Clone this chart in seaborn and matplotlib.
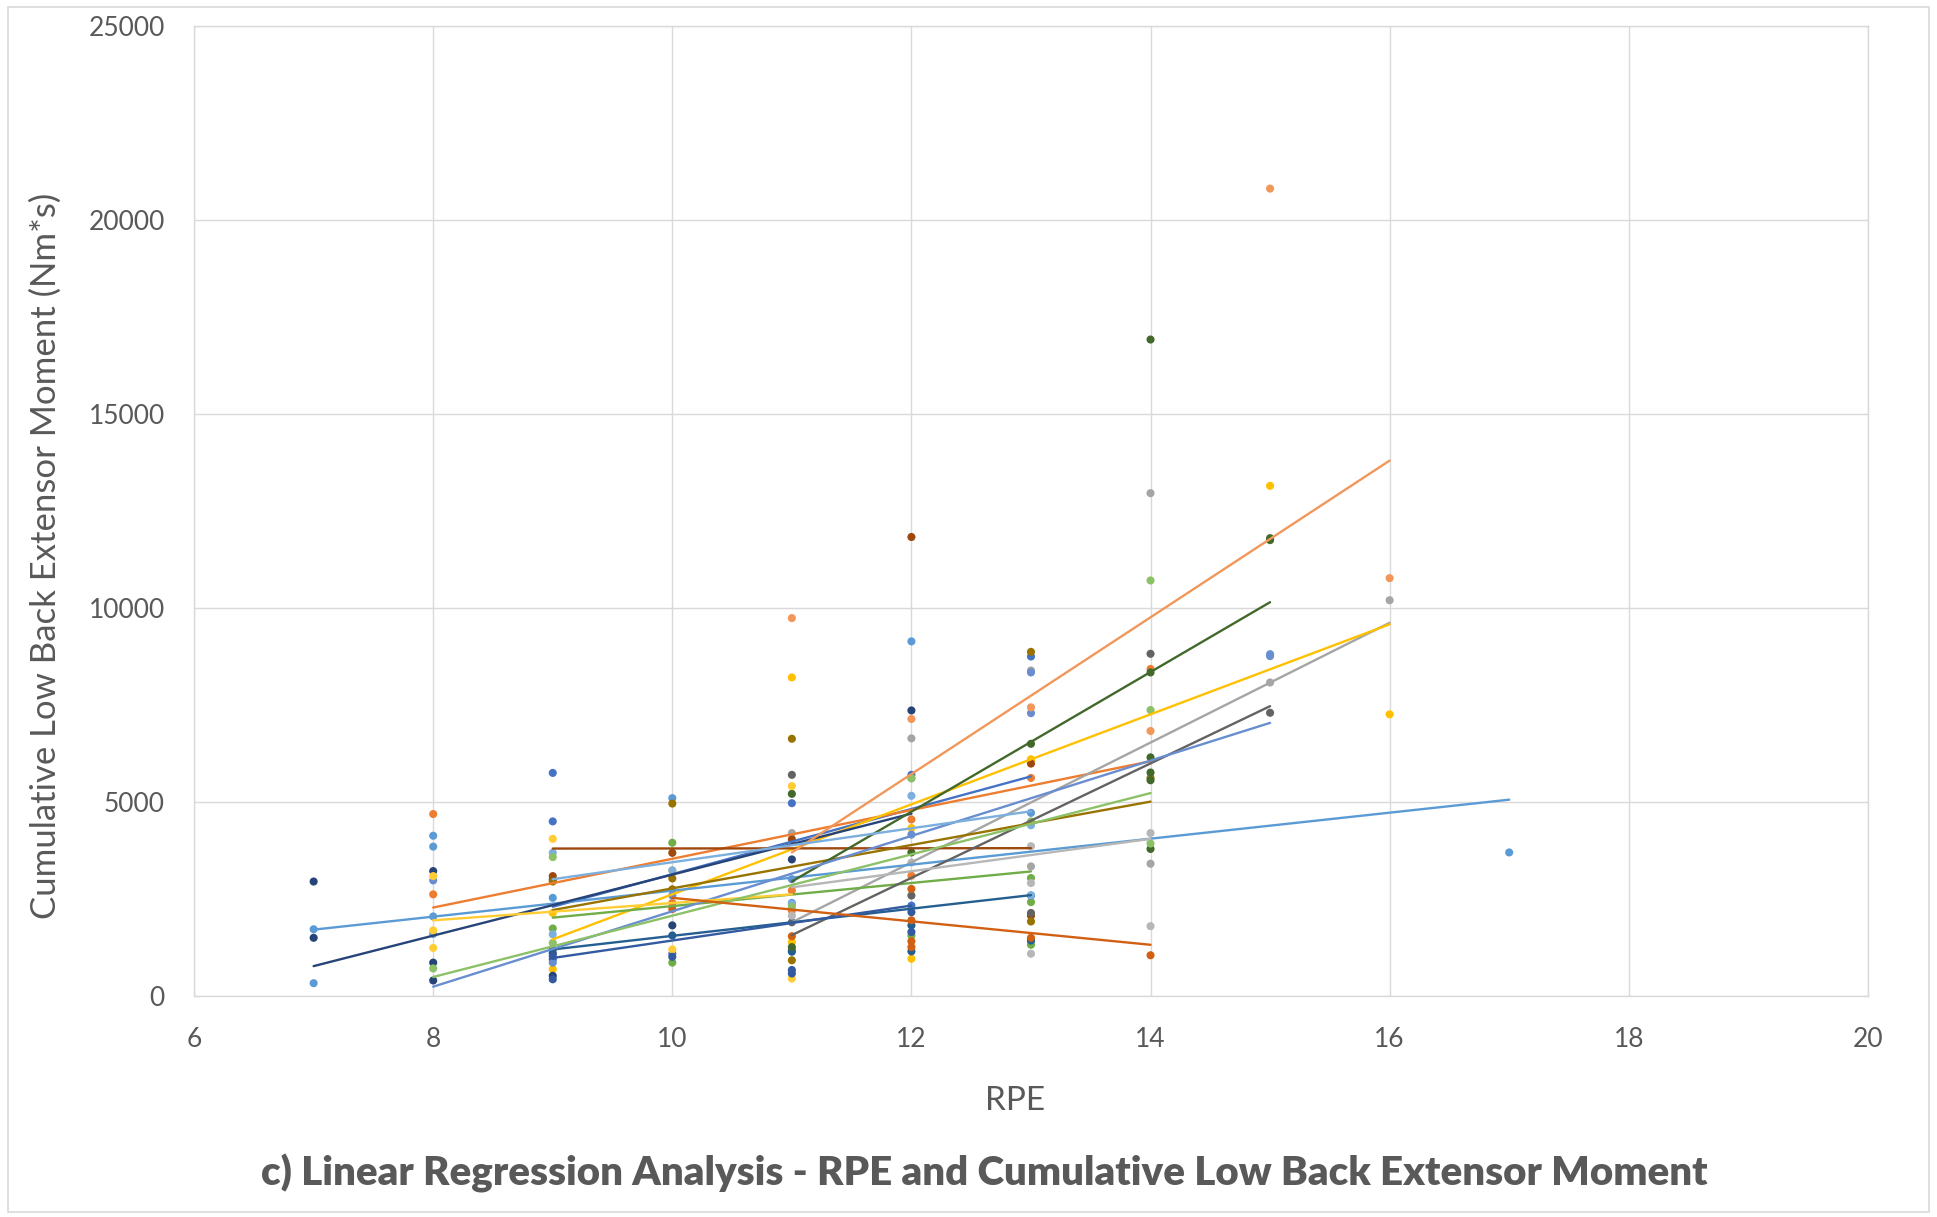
import pandas as pd
import matplotlib.pyplot as plt
import matplotlib.patches as mpatches
import seaborn as sns

# Series (one per participant) and their Excel-style colours
series = ["P1", "P2", "P3", "P4", "P5", "P6", "P7", "P8", "P9", "P10",
          "P11", "P12", "P13", "P14", "P15", "P16", "P17", "P18", "P19", "P20"]
colors = ["#4472C4", "#ED7D31", "#A5A5A5", "#FFC000", "#5B9BD5", "#70AD47",
          "#264478", "#9E480E", "#636363", "#997300", "#255E91", "#43682B",
          "#698ED0", "#F1975A", "#B7B7B7", "#FFCD33", "#7CAFDD", "#8CC168",
          "#335AA1", "#D26012"]

# Scatter points: RPE and cumulative low back extensor moment (Nm*s)
rpe = [
    [9, 9, 10, 11, 11, 12, 12, 13, 13],
    [8, 8, 10, 11, 11, 12, 12, 13, 13, 14],
    [11, 12, 13, 13, 14, 14, 15, 16],
    [9, 9, 10, 11, 11, 12, 12, 13, 15, 16],
    [7, 7, 8, 8, 8, 8, 9, 10, 11, 12, 13, 17],
    [9, 10, 10, 12, 12, 13, 13, 13],
    [7, 7, 8, 8, 8, 9, 9, 9, 10, 11, 12],
    [9, 10, 11, 12, 13, 13],
    [11, 11, 12, 13, 14, 15],
    [9, 10, 10, 10, 11, 11, 13, 13, 14],
    [9, 9, 10, 11, 12, 12, 13, 13],
    [11, 11, 12, 13, 14, 14, 14, 14, 14, 14, 15, 15],
    [8, 9, 10, 11, 12, 13, 13, 15, 15],
    [11, 12, 13, 14, 15, 16],
    [11, 12, 13, 13, 13, 14, 14],
    [8, 8, 8, 9, 10, 11, 11],
    [9, 9, 10, 11, 12, 13, 13],
    [8, 9, 9, 11, 12, 13, 14, 14, 14],
    [9, 9, 10, 11, 11, 12, 12],
    [10, 11, 12, 12, 12, 12, 13, 14],
]
moment = [
    [5750, 4500, 1090, 4970, 1180, 5700, 2330, 8750, 1430],
    [4690, 2620, 2400, 2720, 2200, 4550, 3100, 5620, 6090, 8430],
    [4200, 6640, 8390, 3340, 12960, 3410, 8080, 10200],
    [690, 2140, 3230, 8210, 1390, 4330, 960, 6100, 13150, 7260],
    [1720, 330, 4130, 3850, 2050, 1600, 2530, 5100, 2400, 9140, 4720, 3700],
    [1740, 3950, 860, 5610, 1560, 3040, 2420, 1320],
    [2950, 1500, 3220, 860, 400, 3000, 1100, 520, 1820, 3520, 7360],
    [3090, 3690, 4040, 11830, 5990, 2070],
    [5700, 1900, 2590, 2140, 8820, 7300],
    [2950, 4960, 3030, 2750, 6630, 920, 8870, 1920, 5620],
    [1200, 940, 1560, 1140, 1820, 1150, 2590, 1430],
    [5210, 1260, 3700, 6500, 16920, 8340, 6150, 5760, 5560, 3790, 11800, 11750],
    [2980, 860, 2590, 3010, 4160, 8340, 7290, 8810, 8760],
    [9740, 7140, 7440, 6830, 20810, 10770],
    [2070, 3440, 3860, 2910, 1090, 4200, 1800],
    [3090, 1690, 1240, 4050, 1200, 5410, 450],
    [3690, 1590, 3240, 2370, 5160, 4400, 2590],
    [710, 3580, 1370, 2300, 5620, 4500, 10710, 7370, 3930],
    [1030, 430, 1010, 670, 580, 1650, 2160],
    [2240, 1540, 2760, 1950, 1410, 1260, 1500, 1050],
]

# Linear trendline ends (start RPE, end RPE, start value, end value)
trend_x0 = [9, 8, 11, 9, 7, 9, 7, 9, 11, 9, 9, 11, 8, 11, 11, 8, 9, 8, 9, 10]
trend_x1 = [13, 14, 16, 16, 17, 13, 12, 13, 15, 14, 13, 15, 15, 16, 14, 11, 13, 14, 12, 14]
trend_y0 = [2300, 2280, 1900, 1460, 1710, 2020, 770, 3800, 1570, 2215,
            1200, 2950, 240, 3700, 2800, 1950, 3010, 490, 980, 2530]
trend_y1 = [5660, 6050, 9620, 9580, 5060, 3210, 4700, 3810, 7470, 5010,
            2600, 10150, 7040, 13800, 4050, 2620, 4760, 5230, 2330, 1320]

pts = pd.DataFrame(
    [(s, x, y) for s, xs, ys in zip(series, rpe, moment) for x, y in zip(xs, ys)],
    columns=["Series", "RPE", "Moment"],
)
trend = pd.DataFrame({
    "Series": series * 2,
    "RPE": trend_x0 + trend_x1,
    "Moment": trend_y0 + trend_y1,
})
palette = dict(zip(series, colors))

sns.set_style("white")
plt.rcParams["font.family"] = ["Lato", "DejaVu Sans"]
text_col = "#595959"
grid_col = "#D9D9D9"

fig = plt.figure(figsize=(19.37, 12.17), dpi=100)
ax = fig.add_axes([0.1002, 0.1816, 0.8641, 0.7970])

sns.scatterplot(data=pts, x="RPE", y="Moment", hue="Series", palette=palette,
                s=34, linewidth=0, legend=False, ax=ax, zorder=3)
sns.lineplot(data=trend, x="RPE", y="Moment", hue="Series", palette=palette,
             estimator=None, linewidth=1.7, legend=False, ax=ax, zorder=4)

ax.set_xlim(6, 20)
ax.set_ylim(0, 25000)
ax.set_xticks(range(6, 21, 2))
ax.set_yticks(range(0, 25001, 5000))
ax.grid(True, color=grid_col, linewidth=1.0)
ax.set_axisbelow(True)
for sp in ax.spines.values():
    sp.set_color(grid_col)
    sp.set_linewidth(1.0)
ax.tick_params(axis="both", length=0, labelsize=19, labelcolor=text_col)
ax.tick_params(axis="y", pad=21)
ax.tick_params(axis="x", pad=22)
ax.set_xlabel("")
ax.set_ylabel("")

fig.text(0.5240, 0.0955, "RPE", ha="center", va="center", fontsize=24, color=text_col)
fig.text(0.0238, 0.543, "Cumulative Low Back Extensor Moment (Nm*s)", rotation=90,
         ha="center", va="center", fontsize=25, color=text_col)
fig.text(0.508, 0.0355, "c) Linear Regression Analysis - RPE and Cumulative Low Back Extensor Moment",
         ha="center", va="center", fontsize=29, fontweight="heavy", color=text_col)

# chart area border
fig.patches.append(mpatches.Rectangle((0.004, 0.004), 0.992, 0.99, transform=fig.transFigure,
                                      fill=False, edgecolor=grid_col, linewidth=1.2))

plt.savefig("out.png", dpi=100)
